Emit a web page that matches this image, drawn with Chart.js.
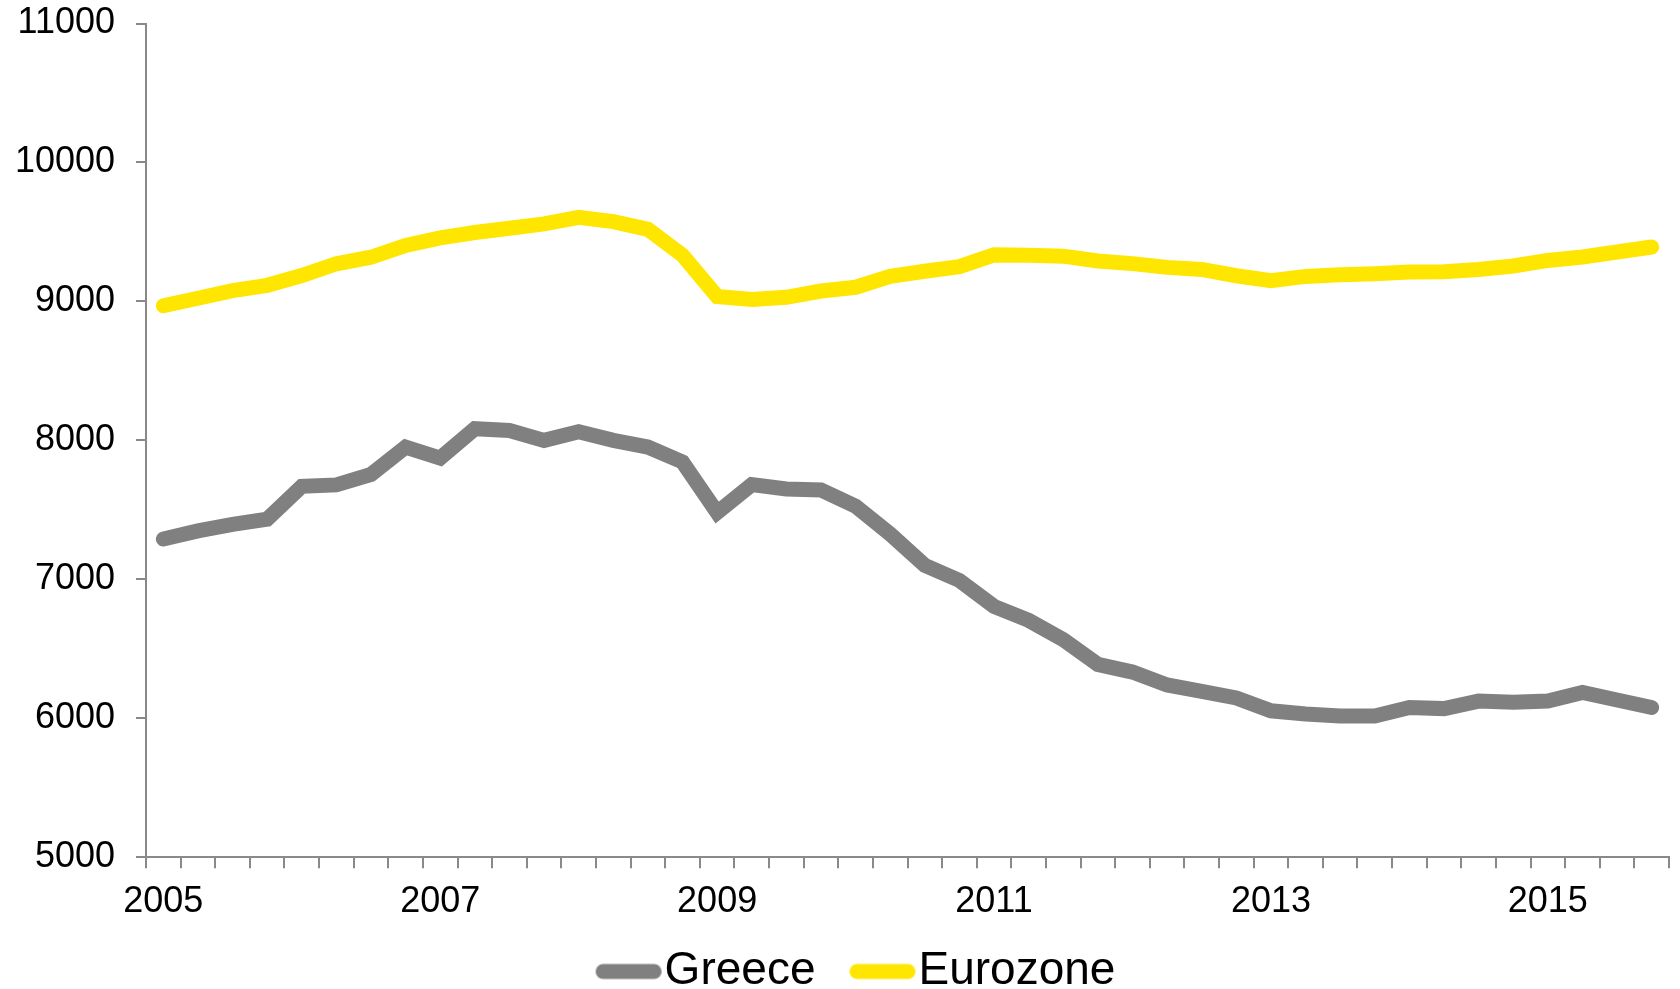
<!DOCTYPE html>
<html>
<head>
<meta charset="utf-8">
<script src="https://cdn.jsdelivr.net/npm/chart.js@4.4.1/dist/chart.umd.min.js"></script>
<style>
  html, body { margin: 0; padding: 0; background: #fff; }
  canvas { display: block; }
</style>
</head>
<body>
<canvas id="chart" width="1680" height="989"></canvas>
<script>
// quarterly, 2005 Q1 .. 2015 Q4
const quarters = [];
for (let y = 2005; y <= 2015; y++) {
  for (let q = 1; q <= 4; q++) quarters.push(y + ' Q' + q);
}
const yearLabels = ['2005', '2007', '2009', '2011', '2013', '2015'];

const greece = [
  7290, 7349, 7396, 7433, 7670, 7680, 7755, 7952,
  7873, 8084, 8071, 8000, 8062, 8000, 7952, 7845,
  7481, 7682, 7651, 7643, 7527, 7326, 7101, 6992,
  6806, 6705, 6566, 6388, 6333, 6240, 6194, 6147,
  6054, 6031, 6016, 6016, 6078, 6070, 6124, 6116,
  6124, 6186, 6132, 6078
];

const eurozone = [
  8969, 9023, 9078, 9116, 9186, 9271, 9318, 9403,
  9457, 9496, 9527, 9558, 9605, 9574, 9519, 9333,
  9036, 9014, 9030, 9075, 9102, 9180, 9217, 9250,
  9335, 9332, 9326, 9291, 9272, 9245, 9230, 9185,
  9150, 9180, 9192, 9200, 9212, 9214, 9230, 9255,
  9295, 9320, 9356, 9392
];

const grey = '#808080';
const yellow = '#FFE600';
const axisGrey = '#898989';
const fontFamily = 'Liberation Sans, Arial, sans-serif';

// legend sample: a thick line that runs right up to the label text
function legendLine(color) {
  const c = document.createElement('canvas');
  c.width = 110;
  c.height = 18;
  const g = c.getContext('2d');
  g.strokeStyle = color;
  g.lineWidth = 15;
  g.lineCap = 'round';
  g.beginPath();
  g.moveTo(48.5, 9);
  g.lineTo(99.5, 9);
  g.stroke();
  return c;
}

// centre the legend row a little right of the canvas middle, as in the original
const legendNudge = {
  id: 'legendNudge',
  afterLayout(chart) {
    chart.legend.left += 6;
    chart.legend.right += 6;
  }
};

const ctx = document.getElementById('chart').getContext('2d');

const chart = new Chart(ctx, {
  type: 'line',
  data: {
    labels: quarters,
    datasets: [
      {
        label: 'Greece',
        data: greece,
        borderColor: grey,
        backgroundColor: grey,
        borderWidth: 15,
        borderCapStyle: 'round',
        borderJoinStyle: 'miter',
        pointRadius: 0,
        pointStyle: legendLine(grey),
        tension: 0,
        fill: false
      },
      {
        label: 'Eurozone',
        data: eurozone,
        borderColor: yellow,
        backgroundColor: yellow,
        borderWidth: 15,
        borderCapStyle: 'round',
        borderJoinStyle: 'miter',
        pointRadius: 0,
        pointStyle: legendLine(yellow),
        tension: 0,
        fill: false
      }
    ]
  },
  plugins: [legendNudge],
  options: {
    responsive: false,
    animation: false,
    layout: {
      padding: { left: 12, right: 11, top: 2, bottom: -15.5 }
    },
    scales: {
      x: {
        type: 'category',
        offset: true,
        afterFit: function(scale) {
          scale.height -= 3;
        },
        grid: {
          offset: true,
          drawOnChartArea: false,
          drawTicks: true,
          tickLength: 11,
          color: axisGrey,
          lineWidth: 2
        },
        border: { color: axisGrey, width: 2 },
        ticks: {
          autoSkip: false,
          maxRotation: 0,
          padding: 12,
          color: '#000',
          font: { family: fontFamily, size: 36 },
          callback: function(value, index) {
            return index % 8 === 0 ? yearLabels[index / 8] : '';
          }
        }
      },
      y: {
        min: 5000,
        max: 11000,
        afterFit: function(scale) {
          scale.width = 134;
          scale.paddingTop = 23.5;
        },
        grid: {
          drawOnChartArea: false,
          drawTicks: true,
          tickLength: 10,
          color: axisGrey,
          lineWidth: 2
        },
        border: { color: axisGrey, width: 2 },
        ticks: {
          stepSize: 1000,
          padding: 21,
          color: '#000',
          font: { family: fontFamily, size: 36 },
          callback: function(value) {
            return String(value);
          }
        }
      }
    },
    plugins: {
      tooltip: { enabled: false },
      legend: {
        position: 'bottom',
        labels: {
          usePointStyle: true,
          pointStyleWidth: 64,
          padding: 16,
          color: '#000',
          font: { family: fontFamily, size: 46 }
        }
      }
    }
  }
});
</script>
</body>
</html>
